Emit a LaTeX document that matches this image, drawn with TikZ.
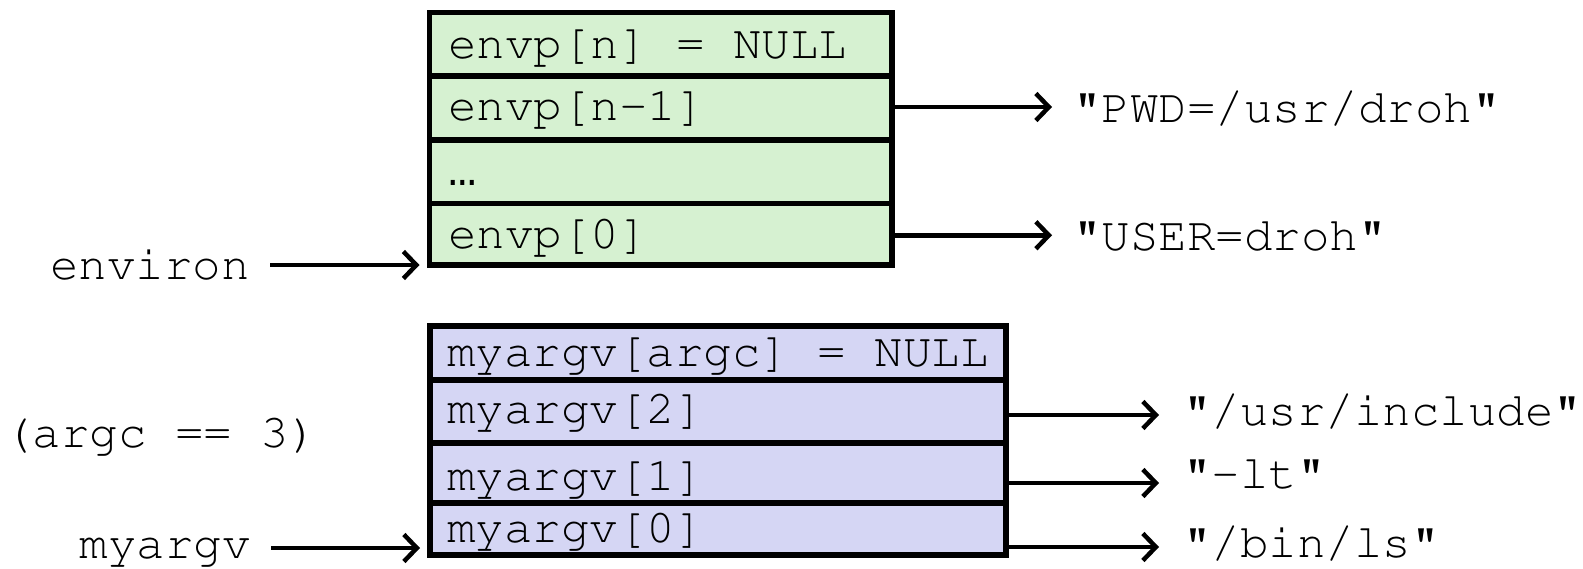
\documentclass[tikz,border=0pt]{standalone}
\usepackage[T1]{fontenc}
\usepackage{fontspec}
\newfontfamily\lmono{Liberation Mono}
\usetikzlibrary{arrows.meta}
\newcommand\dfont{\fontencoding{T1}\fontfamily{pcr}\fontseries{m}\fontshape{n}\fontsize{47.5pt}{50pt}\selectfont}
\newcommand\gcell[1]{\makebox[425.5pt][l]{#1}}
\newcommand\pcell[1]{\makebox[542pt][l]{#1}}
\definecolor{envgreen}{RGB}{214,241,209}
\definecolor{argpurple}{RGB}{213,214,244}
\begin{document}
\begin{tikzpicture}[x=1pt,y=-1pt,
  cellbase/.style={draw=black, line width=5.5pt, anchor=north west, outer sep=0pt,
    inner ysep=0pt, font=\dfont},
  cellg/.style={cellbase, fill=envgreen, inner xsep=18.5pt},
  cellp/.style={cellbase, fill=argpurple, inner xsep=17pt},
  lbl/.style={inner sep=0pt, font=\dfont},
  arr/.style={line width=4.5pt, -{Straight Barb[length=13pt,width=27pt]}}]
\useasboundingbox (0,0) rectangle (1583,568);
% environment vector
\node[cellg, text height=45.5pt, text depth=18pt] (e3) at (429.5,12.5) {\gcell{envp[n] = NULL}};
\node[cellg, text height=44pt, text depth=20pt] (e2) at (e3.south west) {\gcell{envp[n-1]}};
\node[cellg, text height=45pt, text depth=18.5pt] (e1) at (e2.south west) {\gcell{\lmono\fontsize{47.5pt}{50pt}\selectfont …}};
\node[cellg, text height=44.5pt, text depth=17pt] (e0) at (e1.south west) {\gcell{envp[0]}};
% argument vector
\node[cellp, text height=40pt, text depth=14pt] (a3) at (430,326) {\pcell{myargv[argc] = NULL}};
\node[cellp, text height=43pt, text depth=20pt] (a2) at (a3.south west) {\pcell{myargv[2]}};
\node[cellp, text height=47pt, text depth=13pt] (a1) at (a2.south west) {\pcell{myargv[1]}};
\node[cellp, text height=39pt, text depth=13pt] (a0) at (a1.south west) {\pcell{myargv[0]}};
% left labels
\node[lbl, anchor=base east] (envl) at (250,279) {environ};
\node[lbl, anchor=base east] (argvl) at (251,558) {myargv};
\node[lbl, anchor=base west] (argc) at (4,447) {(argc == 3)};
% right labels
\node[lbl, anchor=base west] (pwd) at (1073,122) {"PWD=/usr/droh"};
\node[lbl, anchor=base west] (user) at (1073,250) {"USER=droh"};
\node[lbl, anchor=base west] (inc) at (1183,425) {"/usr/include"};
\node[lbl, anchor=base west] (lt) at (1183,488) {"-lt"};
\node[lbl, anchor=base west] (ls) at (1183,557) {"/bin/ls"};
% connectors
\coordinate (e2o) at ([yshift=1pt]e2.east);
\coordinate (e0o) at ([yshift=-1pt]e0.east);
\coordinate (a2o) at ([yshift=-3.5pt]a2.east);
\coordinate (a1o) at ([yshift=-10pt]a1.east);
\coordinate (a0o) at ([yshift=-18pt]a0.east);
\coordinate (a0i) at ([yshift=7pt]a0.south west);
\draw[arr, shorten >=21pt] (e2o) -- (e2o -| pwd.west);
\draw[arr, shorten >=21pt] (e0o) -- (e0o -| user.west);
\draw[arr, shorten >=24pt] (a2o) -- (a2o -| inc.west);
\draw[arr, shorten >=24pt] (a1o) -- (a1o -| lt.west);
\draw[arr, shorten >=24pt] (a0o) -- (a0o -| ls.west);
\draw[arr, shorten <=20pt, shorten >=10pt] (envl.east |- e0.south west) -- (e0.south west);
\draw[arr, shorten <=20pt, shorten >=10pt] (argvl.east |- a0i) -- (a0i);
\end{tikzpicture}
\end{document}
